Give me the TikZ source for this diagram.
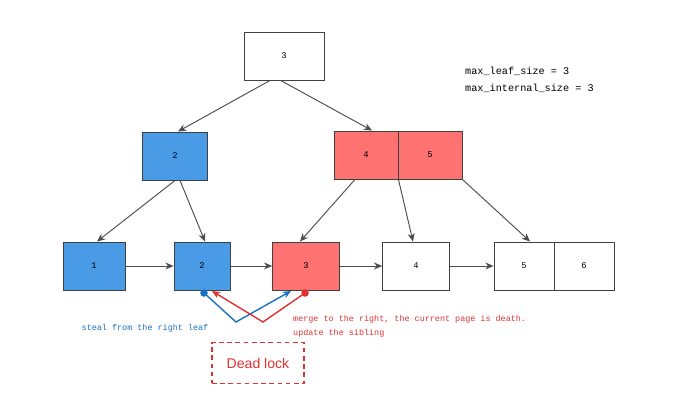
\documentclass[tikz,border=0pt]{standalone}
\usepackage{fontspec}
\setmainfont{Liberation Sans}
\setmonofont{Liberation Mono}
\usetikzlibrary{arrows.meta}
\definecolor{pageblue}{HTML}{4A9BE6}
\definecolor{pagered}{HTML}{FF7272}
\definecolor{lineblue}{HTML}{1971C2}
\definecolor{linered}{HTML}{E03131}

\begin{document}
\begin{tikzpicture}[x=0.03cm, y=-0.03cm, >={Stealth[length=7pt,width=6pt]},
    page/.style={draw=black!75, thick, inner sep=0pt, minimum height=1.44cm, font=\ttfamily\fontsize{7.5}{8}\selectfont},
    note/.style={inner sep=0pt, font=\ttfamily\fontsize{7.2}{12}\selectfont, align=left},
    link/.style={->, black!70, thick},
    lock/.style={very thick, line cap=round},
    dot/.style={circle, fill, inner sep=0pt, minimum size=6.5pt}]
      \useasboundingbox (0,0) rectangle (687,405);

      % inner pages
      \node[page, minimum width=2.4cm] (R) at (284,56) {3};
      \node[page, fill=pageblue, minimum width=1.95cm] (I2) at (175,156) {2};
      \node[page, fill=pagered, minimum width=1.92cm] (I4) at (366,155) {4};
      \node[page, fill=pagered, minimum width=1.92cm] (I5) at (430,155) {5};

      % leaf pages
      \node[page, fill=pageblue, minimum width=1.86cm] (L1) at (94,266) {1};
      \node[page, fill=pageblue, minimum width=1.68cm] (L2) at (202,266) {2};
      \node[page, fill=pagered, minimum width=2.0cm] (L3) at (306,266) {3};
      \node[page, minimum width=2.0cm] (L4) at (416,266) {4};
      \node[page, minimum width=1.8cm] (L5) at (524,266) {5};
      \node[page, minimum width=1.8cm] (L6) at (584,266) {6};

      \node[note, anchor=west, font=\ttfamily\fontsize{8.7}{14}\selectfont] (SZ) at (465,80) {max\_leaf\_size = 3\\max\_internal\_size = 3};

      \draw[link] ([xshift=-0.42cm]R.south) to ([xshift=0.09cm]I2.north);
      \draw[link] ([xshift=-0.1cm]R.south) to ([xshift=0.18cm]I4.north);
      \draw[link] (I2.south) to ([xshift=0.09cm]L1.north);
      \draw[link] ([xshift=0.15cm]I2.south) to ([xshift=0.09cm]L2.north);
      \draw[link] ([xshift=-0.33cm]I4.south) to ([xshift=-0.18cm]L3.north);
      \draw[link] (I4.south east) to ([xshift=-0.09cm]L4.north);
      \draw[link] (I5.south east) to ([xshift=0.18cm]L5.north);

      \draw[link] (L1) to (L2);
      \draw[link] (L2) to (L3);
      \draw[link] (L3) to (L4);
      \draw[link] (L4) to (L5);

      % the two moves that block each other
      \node[dot, lineblue] (BD) at (204,293) {};
      \node[dot, linered] (RD) at (305,293) {};
      \coordinate (BV) at (236,322);
      \coordinate (RV) at (263,322);
      \coordinate (BT) at (291,291);
      \coordinate (RT) at (212,291);
      \draw[lock, lineblue, ->] (BD) -- (BV) -- (BT);
      \draw[lock, linered, ->] (RD) -- (RV) -- (RT);

      \node[note, lineblue] (STEAL) at (145,328) {steal from the right leaf};
      \node[note, linered, anchor=west] (MERGE) at (293,326) {merge to the right, the current page is death.\\update the sibling};

      \node[draw=linered, very thick, dash pattern=on 4pt off 3pt, minimum width=2.76cm, minimum height=1.23cm, text=linered, font=\fontsize{12}{14}\selectfont] (DL) at (258,363) {Dead lock};
    \end{tikzpicture}
\end{document}
